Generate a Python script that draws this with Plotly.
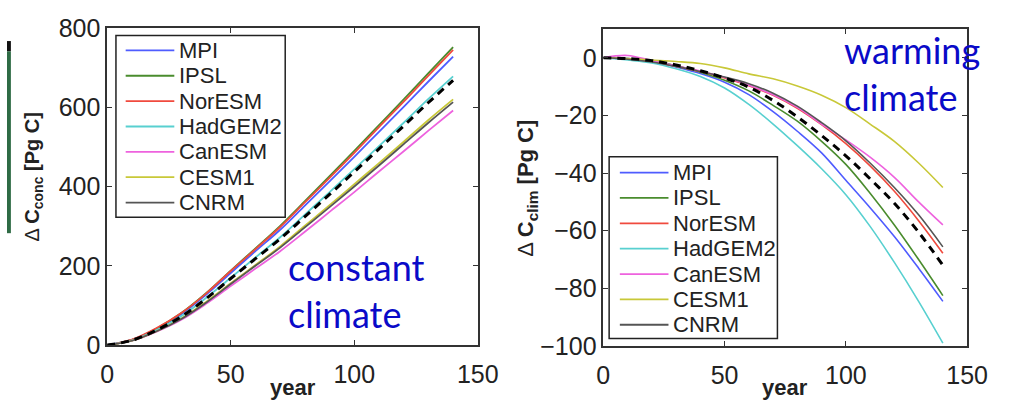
import plotly.graph_objects as go

W, H = 1028, 416

years = [0, 10, 20, 30, 40, 50, 60, 70, 80, 90, 100, 110, 120, 130, 140]
models = ["MPI", "IPSL", "NorESM", "HadGEM2", "CanESM", "CESM1", "CNRM"]
colors = ["#4f5cff", "#4a8c2e", "#f04a3e", "#58d0d0", "#ee62de", "#c8c838", "#555555"]

# constant climate, Delta C_conc [Pg C]
conc_MPI = [0, 13, 41, 78, 127, 182, 237, 291, 352, 413, 475, 538, 601, 665, 728]
conc_IPSL = [0, 13, 42, 81, 131, 188, 244, 301, 363, 426, 490, 555, 620, 686, 752]
conc_NorESM = [0, 14, 43, 81, 130, 187, 242, 298, 360, 422, 485, 550, 614, 680, 745]
conc_HadGEM2 = [0, 12, 38, 73, 119, 170, 221, 272, 329, 386, 444, 502, 561, 621, 678]
conc_CanESM = [0, 11, 34, 64, 104, 149, 193, 237, 286, 336, 386, 438, 489, 541, 592]
conc_CESM1 = [0, 11, 35, 67, 109, 156, 202, 249, 301, 353, 406, 459, 513, 568, 620]
conc_CNRM = [0, 11, 35, 66, 107, 154, 200, 246, 297, 348, 400, 453, 507, 561, 613]
conc_mean = [0, 12, 38, 72, 117, 168, 218, 268, 324, 380, 437, 495, 553, 612, 668]

# warming climate, Delta C_clim [Pg C]
clim_MPI = [0, -0.3, -1.2, -3.2, -5.5, -8.5, -12.8, -18.7, -25.5, -33, -42.5, -52, -62, -73, -84.5]
clim_IPSL = [0, -0.3, -1, -2.8, -5, -7.8, -11.5, -16.5, -22, -29, -37, -47, -58, -70, -82.5]
clim_NorESM = [0, -0.5, -1.5, -3, -4.8, -7, -9.7, -13, -17.5, -23.2, -29.8, -37.5, -46.3, -56.5, -67.8]
clim_HadGEM2 = [0, -0.8, -1.8, -3.8, -6.5, -10.5, -16.2, -23, -30.5, -38.5, -47.5, -58.5, -71, -84.5, -99]
clim_CanESM = [0, 0.8, -1, -2.8, -4.6, -6.8, -9.5, -12.8, -17.2, -23, -28.5, -34.5, -41.5, -50, -58]
clim_CESM1 = [0, -0.3, -0.8, -1.3, -2, -3.5, -5.6, -7.3, -9.8, -13, -17.3, -23, -29, -36.5, -45]
clim_CNRM = [0, -0.5, -1.5, -3, -4.8, -6.7, -9, -12.3, -16.8, -22.5, -28.8, -36.5, -45, -54.5, -65.6]
clim_mean = [0, -0.3, -1, -2.5, -4.5, -7, -10.2, -14.8, -20.5, -27, -34, -42, -50.5, -60.5, -72]

conc_series = [conc_MPI, conc_IPSL, conc_NorESM, conc_HadGEM2, conc_CanESM, conc_CESM1, conc_CNRM]
clim_series = [clim_MPI, clim_IPSL, clim_NorESM, clim_HadGEM2, clim_CanESM, clim_CESM1, clim_CNRM]

fig = go.Figure()
for name, col, ys in zip(models, colors, conc_series):
    fig.add_trace(go.Scatter(x=years, y=ys, name=name, mode="lines", showlegend=False,
                             line=dict(color=col, width=1.8, shape="spline"), xaxis="x", yaxis="y"))
fig.add_trace(go.Scatter(x=years, y=conc_mean, mode="lines", showlegend=False, name="mean",
                         line=dict(color="black", width=3, dash="8px,6px", shape="spline"), xaxis="x", yaxis="y"))
for name, col, ys in zip(models, colors, clim_series):
    fig.add_trace(go.Scatter(x=years, y=ys, name=name, mode="lines", showlegend=False,
                             line=dict(color=col, width=1.6, shape="spline"), xaxis="x2", yaxis="y2"))
fig.add_trace(go.Scatter(x=years, y=clim_mean, mode="lines", showlegend=False, name="mean",
                         line=dict(color="black", width=3, dash="8px,6px", shape="spline"), xaxis="x2", yaxis="y2"))

axis_common = dict(showgrid=False, zeroline=False, showline=True, linecolor="#333", linewidth=1.5,
                   mirror="allticks", ticks="inside", ticklen=5, tickwidth=1.3, tickcolor="#333",
                   tickfont=dict(family="Liberation Sans, Arial", size=25, color="#222"))

fig.update_layout(
    width=W, height=H, margin=dict(l=0, r=0, t=0, b=0),
    paper_bgcolor="white", plot_bgcolor="white", showlegend=False,
    xaxis=dict(domain=[103 / W, 484 / W], range=[0, 150], tickvals=[0, 50, 100, 150], anchor="y",
               ticklabelstandoff=6, **axis_common),
    yaxis=dict(domain=[(H - 355) / H, (H - 15) / H], range=[0, 800], tickvals=[0, 200, 400, 600, 800], anchor="x",
               **axis_common),
    xaxis2=dict(domain=[613 / W, 987 / W], range=[0, 150], tickvals=[0, 50, 100, 150], anchor="y2",
                ticklabelstandoff=6, **axis_common),
    yaxis2=dict(domain=[(H - 356) / H, (H - 16) / H], range=[-100, 10], tickvals=[-100, -80, -60, -40, -20, 0],
                anchor="x2", **axis_common),
)

# manual legends (boxes, line samples, labels)
leg_font = dict(family="Liberation Sans, Arial", size=22, color="#222")
for (bx0, bx1, by0, by1, lx0, lx1, tx, ty0) in [(112, 286, 23, 218, 122, 172, 176, 39),
                                               (619, 792, 153, 348, 630, 680, 684, 170)]:
    fig.add_shape(type="rect", xref="paper", yref="paper", x0=bx0 / W, x1=bx1 / W, y0=(H - by1) / H, y1=(H - by0) / H,
                  line=dict(color="#222", width=1.5), fillcolor="white", layer="above")
    for i, (name, col) in enumerate(zip(models, colors)):
        yy = (H - (ty0 + 27.2 * i)) / H
        fig.add_shape(type="line", xref="paper", yref="paper", x0=lx0 / W, x1=lx1 / W, y0=yy, y1=yy,
                      line=dict(color=col, width=1.8), layer="above")
        fig.add_annotation(text=name, xref="paper", yref="paper", x=tx / W, y=yy, xanchor="left", yanchor="middle",
                           showarrow=False, font=leg_font, borderpad=0)

ann_font = dict(family="Lato", size=36, color="#0a0ac8")
fig.add_annotation(text="constant<br>climate", xref="paper", yref="paper", x=288 / W, y=(H - 296) / H,
                   xanchor="left", yanchor="middle", align="left", showarrow=False, font=ann_font, borderpad=0)
fig.add_annotation(text="warming<br>climate", xref="paper", yref="paper", x=859 / W, y=(H - 64) / H,
                   xanchor="left", yanchor="middle", align="left", showarrow=False, font=ann_font, borderpad=0)
for cx in (294, 800):
    fig.add_annotation(text="<b>year</b>", xref="paper", yref="paper", x=cx / W, y=(H - 400) / H,
                       xanchor="center", yanchor="middle", showarrow=False,
                       font=dict(family="Liberation Sans, Arial", size=22, color="#222"))
fig.add_annotation(text="Δ <b>C<sub>conc</sub> [Pg C]</b>", xref="paper", yref="paper", x=27 / W, y=(H - 175) / H,
                   xanchor="center", yanchor="middle", textangle=-90, showarrow=False,
                   font=dict(family="Liberation Sans, Arial", size=20, color="#222"))
fig.add_annotation(text="Δ <b>C<sub>clim</sub> [Pg C]</b>", xref="paper", yref="paper", x=535 / W, y=(H - 187) / H,
                   xanchor="center", yanchor="middle", textangle=-90, showarrow=False,
                   font=dict(family="Liberation Sans, Arial", size=22, color="#222"))

# decorative edge strip at the far left of the image
fig.add_shape(type="rect", xref="paper", yref="paper", x0=0, x1=4 / W, y0=(H - 40) / H, y1=(H - 29) / H,
              fillcolor="#111", line_width=0)
fig.add_shape(type="rect", xref="paper", yref="paper", x0=0, x1=4 / W, y0=(H - 235) / H, y1=(H - 40) / H,
              fillcolor="#2f6b45", line_width=0)

fig.write_html("out.html")
